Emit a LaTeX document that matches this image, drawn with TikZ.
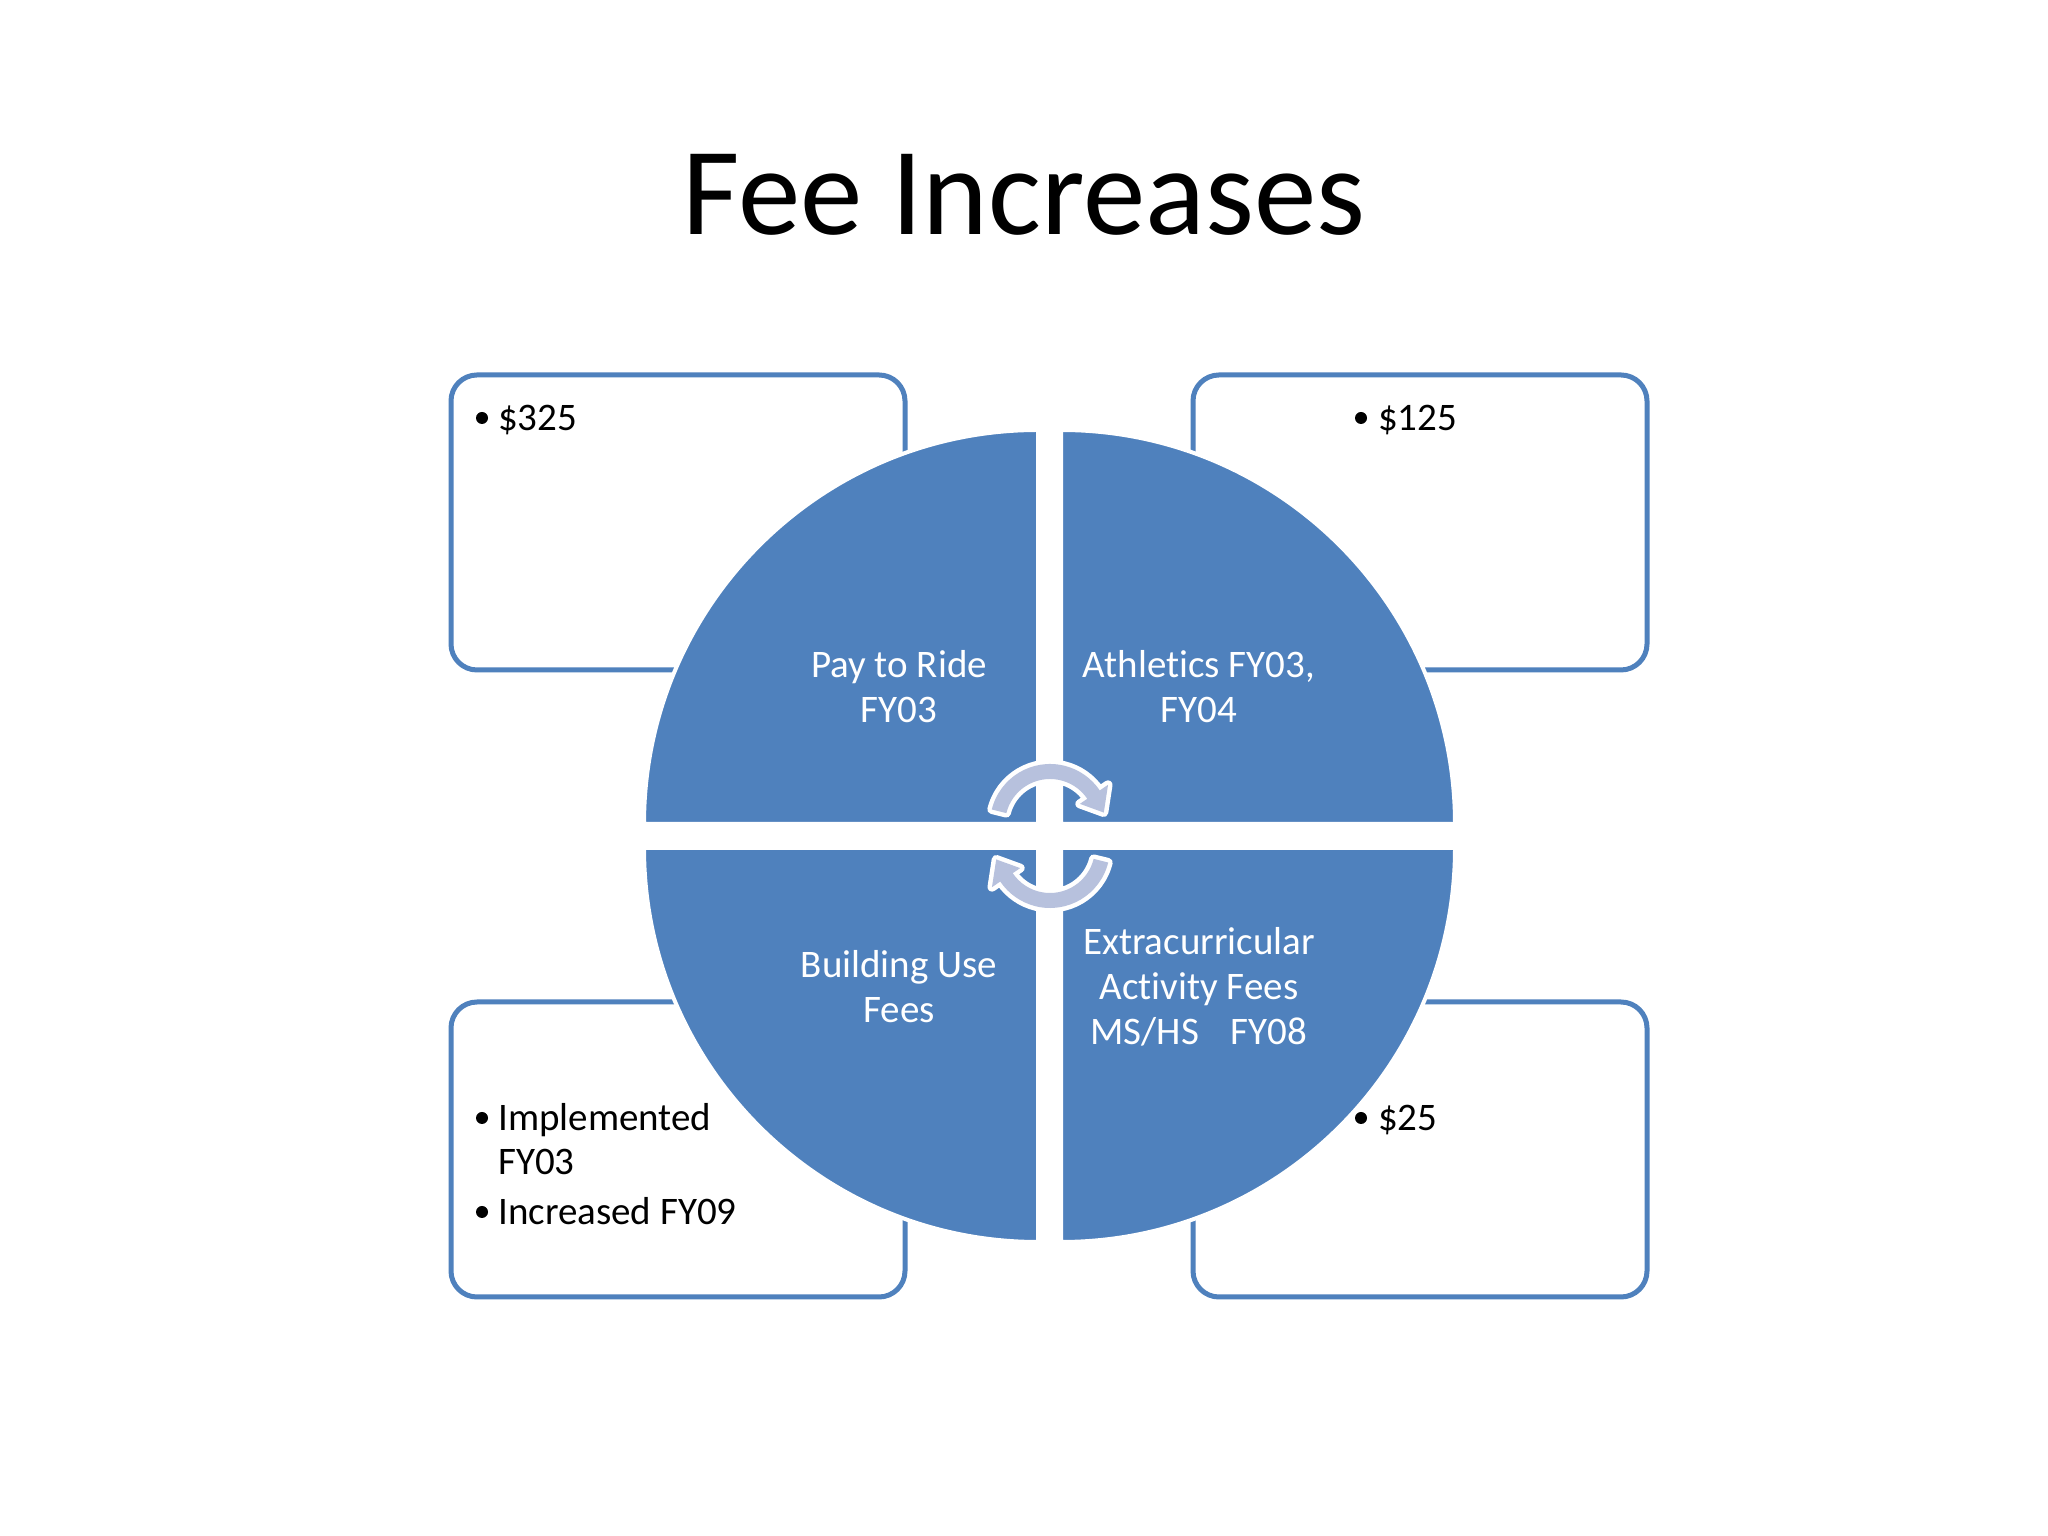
\documentclass[tikz,border=0pt]{standalone}
\usepackage{fontspec}
\setmainfont{Carlito}[Ligatures={NoCommon}]
\definecolor{qblue}{RGB}{79,129,189}
\definecolor{arrfill}{RGB}{183,193,221}
\tikzset{
  fbox/.style={draw=qblue, line width=5pt, fill=white, rounded corners=26pt, minimum width=454pt, minimum height=295pt, inner sep=0pt},
  quad/.style={fill=qblue, draw=white, line width=4pt},
  qtext/.style={text=white, font=\fontsize{39}{44}\selectfont, anchor=base, inner sep=0pt},
  btext/.style={text=black, font=\fontsize{39}{44}\selectfont, anchor=base west, inner sep=0pt},
  bdot/.style={circle, fill=black, minimum size=12pt, inner sep=0pt},
  cyc/.style={fill=arrfill, preaction={draw=white, line width=9pt, line join=round}},
}
\begin{document}
\begin{tikzpicture}[x=1pt,y=1pt]
\useasboundingbox (0,0) rectangle (2048,1536);
\fill[white] (0,0) rectangle (2048,1536);

% title
\node[font=\fontsize{125}{150}\selectfont, anchor=base, inner sep=0pt] (title) at (1024,1301) {Fee Increases};

% boxes
\node[fbox] (boxTL) at (678,1013.5) {};
\node[fbox] (boxTR) at (1420,1013.5) {};
\node[fbox] (boxBL) at (678,386.5) {};
\node[fbox] (boxBR) at (1420,386.5) {};

% quadrants
\path[quad] (1038,712) -- (1038,1106) arc[start angle=90, end angle=180, radius=394] -- cycle;
\path[quad] (1061,712) -- (1455,712) arc[start angle=0, end angle=90, radius=394] -- cycle;
\path[quad] (1038,688) -- (644,688) arc[start angle=180, end angle=270, radius=394] -- cycle;
\path[quad] (1061,688) -- (1061,294) arc[start angle=270, end angle=360, radius=394] -- cycle;

% cycle arrows
\begin{scope}[shift={(1050,712)}]
\path[cyc] (166:60) arc[start angle=166, end angle=34, radius=60]
  -- (34:70) -- (12:55) -- (34:36) -- (34:45)
  arc[start angle=34, end angle=166, radius=45] -- cycle;
\end{scope}
\begin{scope}[shift={(1050,688)}]
\path[cyc] (346:60) arc[start angle=346, end angle=214, radius=60]
  -- (214:70) -- (192:55) -- (214:36) -- (214:45)
  arc[start angle=214, end angle=346, radius=45] -- cycle;
\end{scope}

% quadrant texts
\node[qtext] (tl1) at (899,858) {Pay to Ride};
\node[qtext] (tl2) at (899,813) {FY03};
\node[qtext] (tr1) at (1199,858) {Athletics FY03,};
\node[qtext] (tr2) at (1199,813) {FY04};
\node[qtext] (bl1) at (899,558) {Building Use};
\node[qtext] (bl2) at (899,513) {Fees};
\node[qtext] (br1) at (1199,581) {Extracurricular};
\node[qtext] (br2) at (1199,536) {Activity Fees};
\node[qtext] (br3) at (1199,491) {MS/HS\hspace{32pt}FY08};

% box bullets
\node[bdot] (d1) at (482,1118) {};
\node[btext] (t1) at (498,1105) {\$325};
\node[bdot] (d2) at (1361,1118) {};
\node[btext] (t2) at (1378,1105) {\$125};
\node[bdot] (d3) at (482,418) {};
\node[btext] (t3a) at (498,405) {Implemented};
\node[btext] (t3b) at (498,361) {FY03};
\node[bdot] (d4) at (482,324) {};
\node[btext] (t4) at (498,311) {Increased FY09};
\node[bdot] (d5) at (1361,418) {};
\node[btext] (t5) at (1378,405) {\$25};
\end{tikzpicture}
\end{document}
